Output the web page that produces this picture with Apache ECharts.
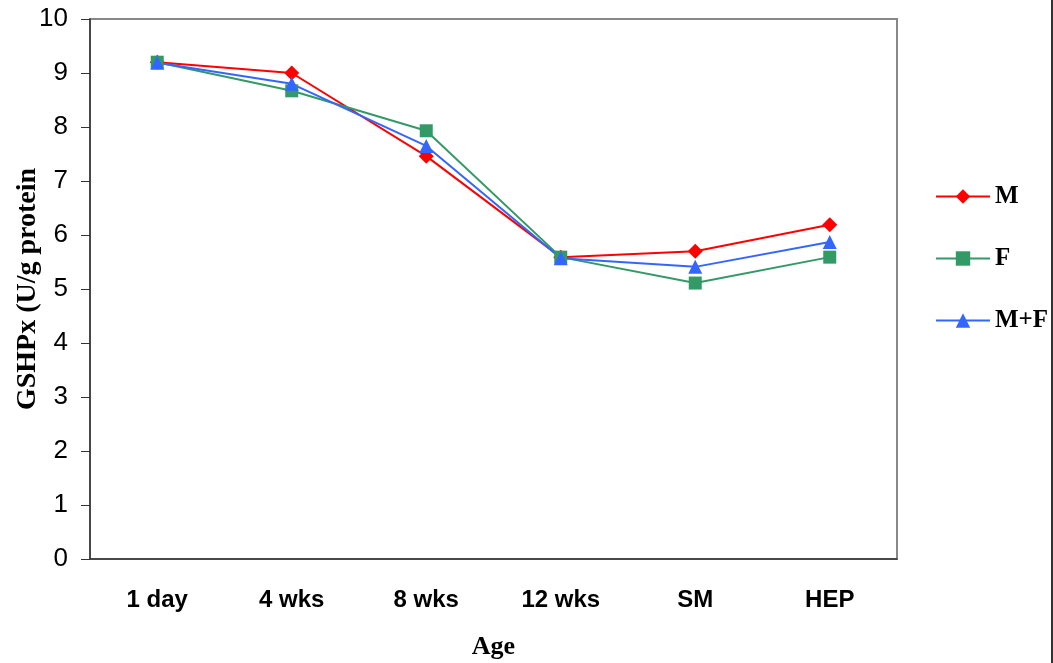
<!DOCTYPE html>
<html>
<head>
<meta charset="utf-8">
<script src="https://cdn.jsdelivr.net/npm/echarts@6/dist/echarts.min.js"></script>
<style>
  html, body { margin: 0; padding: 0; background: #fff; }
  #chart { width: 1053px; height: 663px; }
</style>
</head>
<body>
<div id="chart"></div>
<script>
// GSHPx activity by age group
const categories = ['1 day', '4 wks', '8 wks', '12 wks', 'SM', 'HEP'];
const maleValues = [9.2, 9.0, 7.46, 5.59, 5.7, 6.19];
const femaleValues = [9.2, 8.67, 7.93, 5.59, 5.11, 5.59];
const combinedValues = [9.19, 8.8, 7.65, 5.57, 5.41, 5.87];
const yTicks = [0, 1, 2, 3, 4, 5, 6, 7, 8, 9, 10];

const chart = echarts.init(document.getElementById('chart'), null, { renderer: 'canvas' });

const serifBold = { fontFamily: 'Liberation Serif', fontWeight: 'bold', color: '#000' };

chart.setOption({
  animation: false,
  backgroundColor: '#fff',
  grid: {
    left: 90, right: 156, top: 19, bottom: 104,
    outerBoundsMode: 'none', containLabel: false,
    show: true, borderColor: '#888', borderWidth: 2
  },
  legend: {
    orient: 'vertical',
    left: 930,
    top: 179,
    itemGap: 37,
    itemWidth: 54,
    itemHeight: 18,
    textStyle: Object.assign({ fontSize: 25 }, serifBold),
    data: ['M', 'F', 'M+F']
  },
  xAxis: {
    type: 'category',
    data: categories,
    boundaryGap: true,
    name: 'Age',
    nameLocation: 'middle',
    nameGap: 75,
    nameMoveOverlap: false,
    nameTextStyle: Object.assign({ fontSize: 26 }, serifBold),
    axisLine: { lineStyle: { color: '#333', width: 1.5 } },
    axisTick: { length: 7, lineStyle: { color: '#333' } },
    axisLabel: { margin: 29, fontSize: 24, fontFamily: 'Liberation Sans', fontWeight: 'bold', color: '#000' },
    splitLine: { show: false }
  },
  yAxis: {
    type: 'value',
    min: yTicks[0],
    max: yTicks[yTicks.length - 1],
    interval: 1,
    name: 'GSHPx (U/g protein',
    nameLocation: 'middle',
    nameGap: 48,
    nameMoveOverlap: false,
    nameRotate: 90,
    nameTextStyle: Object.assign({ fontSize: 28 }, serifBold),
    axisLine: { show: true, lineStyle: { color: '#333', width: 1.5 } },
    axisTick: { show: true, length: 9, lineStyle: { color: '#333' } },
    axisLabel: { margin: 22, fontSize: 26, fontFamily: 'Liberation Sans', color: '#000' },
    splitLine: { show: false }
  },
  series: [
    {
      name: 'M', type: 'line', data: maleValues,
      symbol: 'diamond', symbolSize: 15,
      lineStyle: { color: '#ff0000', width: 2 },
      itemStyle: { color: '#ff0000' }
    },
    {
      name: 'F', type: 'line', data: femaleValues,
      symbol: 'rect', symbolSize: 13,
      lineStyle: { color: '#339966', width: 2 },
      itemStyle: { color: '#339966' }
    },
    {
      name: 'M+F', type: 'line', data: combinedValues,
      symbol: 'triangle', symbolSize: 14,
      lineStyle: { color: '#3366ff', width: 2 },
      itemStyle: { color: '#3366ff' }
    }
  ],
  graphic: [
    { type: 'line', shape: { x1: 1052, y1: 0, x2: 1052, y2: 663 }, style: { stroke: '#333', lineWidth: 2 } }
  ]
});
</script>
</body>
</html>
